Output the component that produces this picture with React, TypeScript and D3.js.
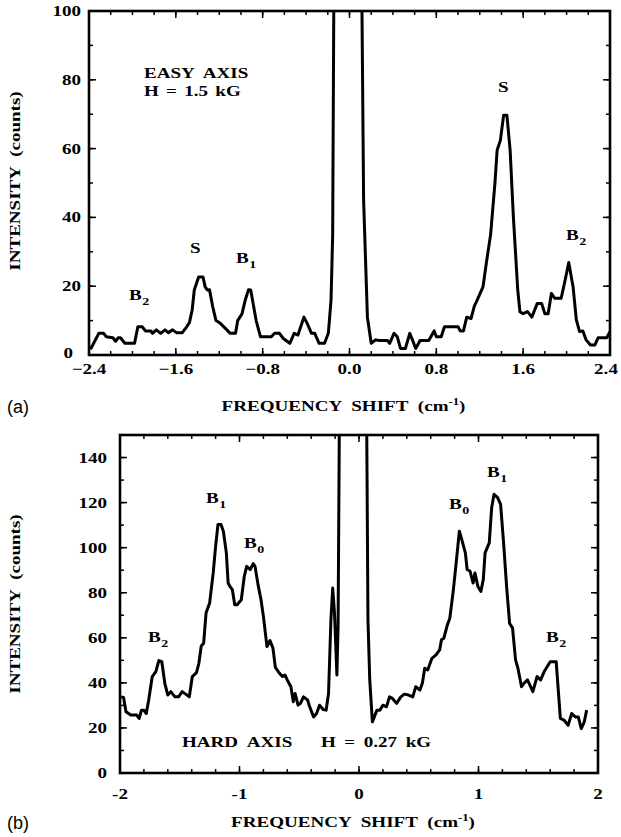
import React from "react";
import * as d3 from "d3";

// Panel (a): easy axis spectrum
const easyX = [-2.4,-2.38,-2.31,-2.265,-2.24,-2.18,-2.155,-2.13,-2.11,-2.07,-1.98,-1.95,-1.91,-1.88,-1.83,-1.815,-1.78,-1.74,-1.7,-1.67,-1.63,-1.595,-1.54,-1.5,-1.475,-1.45,-1.43,-1.39,-1.35,-1.33,-1.31,-1.29,-1.26,-1.23,-1.19,-1.13,-1.1,-1.05,-1.03,-0.99,-0.96,-0.93,-0.91,-0.86,-0.82,-0.72,-0.69,-0.645,-0.61,-0.55,-0.51,-0.475,-0.42,-0.39,-0.35,-0.32,-0.28,-0.23,-0.195,-0.17,-0.155,-0.145,-0.14,0.11,0.115,0.13,0.165,0.2,0.24,0.275,0.35,0.37,0.41,0.44,0.47,0.515,0.555,0.58,0.61,0.65,0.73,0.78,0.8,0.845,0.875,1.0,1.02,1.05,1.08,1.12,1.15,1.17,1.23,1.26,1.3,1.34,1.36,1.39,1.42,1.45,1.48,1.51,1.55,1.57,1.6,1.64,1.68,1.73,1.77,1.8,1.83,1.86,1.89,1.95,1.98,2.02,2.06,2.09,2.12,2.15,2.18,2.22,2.26,2.29,2.37,2.4];
const easyY = [2.4,2,6.3,6.3,5.3,5,4,5,5,3.4,3.4,8.2,8.2,7,7,6.3,7.3,6.3,7.3,6.5,7.3,6.5,6.5,8.2,9.4,13,18.9,22.7,22.7,19.8,18.9,19,14,10,9.2,7.3,6.3,6.3,10,12,16,19,18.9,10,5.3,5.3,6.3,6.3,4.8,3.4,6.3,5.8,11,9.2,6.3,6.3,3.4,3.4,6.3,16,35,100,400,400,100,45,11,3.4,4.4,4.2,4.2,3.4,6.3,5.3,1.9,1.9,6.3,4.4,1.9,4.2,4.2,7,5.3,5.3,8.2,8.2,7,7,11,10.6,14.2,15.5,19.8,26.6,35,50,59.5,62.4,69.7,69.7,59.5,40,18.9,12.6,12,12.6,11,15,15,12,12,17.9,16.5,16.5,20.8,26.9,19.8,10.2,6.8,7,4.4,2.9,2.9,5,5,6.8];

// Panel (b): hard axis spectrum
const hardX = [-1.99,-1.97,-1.95,-1.91,-1.86,-1.84,-1.82,-1.8,-1.78,-1.76,-1.73,-1.7,-1.675,-1.65,-1.625,-1.6,-1.575,-1.54,-1.51,-1.48,-1.45,-1.42,-1.395,-1.36,-1.34,-1.32,-1.3,-1.28,-1.25,-1.22,-1.2,-1.18,-1.155,-1.135,-1.11,-1.095,-1.08,-1.06,-1.04,-1.02,-0.985,-0.96,-0.94,-0.91,-0.885,-0.87,-0.845,-0.82,-0.8,-0.77,-0.745,-0.72,-0.7,-0.665,-0.64,-0.62,-0.6,-0.57,-0.55,-0.535,-0.51,-0.49,-0.465,-0.43,-0.415,-0.38,-0.355,-0.33,-0.3,-0.275,-0.255,-0.235,-0.22,-0.205,-0.185,-0.175,-0.165,-0.16,0.06,0.065,0.075,0.09,0.112,0.15,0.175,0.2,0.23,0.255,0.28,0.315,0.35,0.38,0.415,0.45,0.475,0.51,0.53,0.55,0.575,0.61,0.645,0.675,0.69,0.71,0.74,0.76,0.79,0.81,0.84,0.86,0.89,0.905,0.93,0.955,0.97,0.995,1.02,1.04,1.055,1.09,1.11,1.13,1.16,1.185,1.21,1.235,1.26,1.285,1.31,1.33,1.36,1.38,1.41,1.455,1.49,1.52,1.55,1.6,1.65,1.685,1.715,1.75,1.78,1.81,1.835,1.86,1.885,1.905];
const hardY = [33.8,33.5,27.2,25.7,25.7,24.2,27.9,27.9,26.4,32.4,42.8,45,49.9,49.4,39.8,34.6,36.1,33.8,33.8,36.1,35,33.8,42.8,44.5,48.7,56.4,57.6,71,75.4,88.8,100.6,110.3,110.3,107.3,97.7,84.3,82.8,81.4,74.7,74.7,76.9,87.3,91.7,90.3,92.9,91.7,83.6,76.9,69.5,56.1,58.8,55.4,46.9,44.2,42.8,43.5,41.3,38.3,31.6,35.3,30.1,30.9,33.8,32.4,29.7,24.9,26.4,30.1,28.2,27.9,35.3,68,82.1,71,43.5,65,150,600,600,150,68,41.3,22.7,27.9,27.9,30.1,29.4,33.8,33.1,30.9,33.8,35,34.6,33.8,38.3,36.8,39.8,46.5,45.7,50.9,52.4,54.6,59.1,59.8,65.8,68.7,81.4,91.7,107.3,103.6,97.7,90.3,89.5,84.3,88.8,82.8,80.6,85.8,97.7,102.1,117.7,123.7,122.2,119.2,102.1,82.8,66.5,64.3,50.2,46.5,38.3,39.8,41.3,36.1,42.8,41.3,45,49.4,49.4,24.2,23.5,21.2,26.4,24.9,24.9,19.7,22.7,27.9];

const easyXTicks = [-2.4, -1.6, -0.8, 0.0, 0.8, 1.6, 2.4];
const easyYTicks = [0, 20, 40, 60, 80, 100];
const hardXTicks = [-2, -1, 0, 1, 2];
const hardYTicks = [0, 20, 40, 60, 80, 100, 120, 140];

const SERIF = "'Liberation Serif', 'Times New Roman', serif";
const SANS = "'Liberation Sans', Arial, sans-serif";
const SX = 1.27;

function T(props: { x: number; y: number; anchor?: string; size?: number; rotate?: boolean; ws?: number; children: React.ReactNode }) {
  const tr = props.rotate
    ? `translate(${props.x},${props.y}) rotate(-90) scale(${SX},1)`
    : `translate(${props.x},${props.y}) scale(${SX},1)`;
  return (
    <text transform={tr} textAnchor={props.anchor || "start"} fontFamily={SERIF} fontWeight="bold"
      fontSize={props.size || 15} wordSpacing={props.ws || 0} fill="#000">
      {props.children}
    </text>
  );
}

type Label = { x: number; y: number; text: string; sub?: string };

function Panel(props: {
  id: string;
  left: number; right: number; top: number; bottom: number;
  xDomain: [number, number]; yDomain: [number, number];
  xs: number[]; ys: number[];
  xTicks: number[]; yTicks: number[];
  xMinorStep: number; yMinorStep: number;
  xFmt: (v: number) => string;
  labels: Label[];
  tag: string;
  yLabelRight: number;
  zeroDx: number; zeroDy: number; lastDx: number;
  tagY: number; xTitleY: number; xTickY: number; yTitleY: number;
  extra: React.ReactNode;
}) {
  const { left, right, top, bottom } = props;
  const x = d3.scaleLinear().domain(props.xDomain).range([left, right]);
  const y = d3.scaleLinear().domain(props.yDomain).range([bottom, top]);
  const pts = props.xs.map((v, i) => [v, props.ys[i]] as [number, number]);
  const line = d3.line<[number, number]>().x(d => x(d[0])).y(d => y(d[1]));
  const xMinor = d3.range(props.xDomain[0], props.xDomain[1] + 1e-9, props.xMinorStep);
  const yMinor = d3.range(props.yDomain[0], props.yDomain[1] + 1e-9, props.yMinorStep);
  const maj = 7, min = 4;
  const tickStyle = { stroke: "#000", strokeWidth: 1.5 };
  const nX = props.xTicks.length;
  return (
    <g>
      <defs>
        <clipPath id={props.id}>
          <rect x={left} y={top} width={right - left} height={bottom - top} />
        </clipPath>
      </defs>
      {xMinor.map((v, i) => (
        <g key={"xm" + i}>
          <line x1={x(v)} x2={x(v)} y1={bottom} y2={bottom - min} {...tickStyle} />
          <line x1={x(v)} x2={x(v)} y1={top} y2={top + min} {...tickStyle} />
        </g>
      ))}
      {props.xTicks.map((v, i) => (
        <g key={"xt" + i}>
          <line x1={x(v)} x2={x(v)} y1={bottom} y2={bottom - maj} {...tickStyle} />
          <line x1={x(v)} x2={x(v)} y1={top} y2={top + maj} {...tickStyle} />
          <T x={x(v) + (i === nX - 1 ? props.lastDx : 0)} y={props.xTickY} anchor="middle">{props.xFmt(v)}</T>
        </g>
      ))}
      {yMinor.map((v, i) => (
        <g key={"ym" + i}>
          <line x1={left} x2={left + min} y1={y(v)} y2={y(v)} {...tickStyle} />
          <line x1={right} x2={right - min} y1={y(v)} y2={y(v)} {...tickStyle} />
        </g>
      ))}
      {props.yTicks.map((v, i) => (
        <g key={"yt" + i}>
          <line x1={left} x2={left + maj} y1={y(v)} y2={y(v)} {...tickStyle} />
          <line x1={right} x2={right - maj} y1={y(v)} y2={y(v)} {...tickStyle} />
          <T x={props.yLabelRight + (v === 0 ? props.zeroDx : 0)} y={y(v) + 5 + (v === 0 ? props.zeroDy : 0)} anchor="end">{String(v)}</T>
        </g>
      ))}
      <path d={line(pts) || ""} fill="none" stroke="#000" strokeWidth={3} strokeLinejoin="round" clipPath={`url(#${props.id})`} />
      <rect x={left} y={top} width={right - left} height={bottom - top} fill="none" stroke="#000" strokeWidth={2.6} />
      {props.labels.map((l, i) => (
        <T key={"l" + i} x={l.x} y={l.y}>
          {l.text}
          {l.sub ? <tspan dx={0.5} dy={5} fontSize={11}>{l.sub}</tspan> : null}
        </T>
      ))}
      {props.extra}
      <T x={(left + right) / 2 - 6} y={props.xTitleY} anchor="middle" ws={4}>
        FREQUENCY SHIFT (cm<tspan dy={-6} fontSize={10}>-1</tspan><tspan dy={6}>)</tspan>
      </T>
      <T x={20} y={props.yTitleY} anchor="middle" rotate={true} ws={4}>
        INTENSITY (counts)
      </T>
      <text x={7} y={props.tagY} fontFamily={SANS} fontSize={18}>{props.tag}</text>
    </g>
  );
}

export default function App() {
  return (
    <div style={{ position: "absolute", left: 0, top: 0 }}>
      <svg width={621} height={837} viewBox="0 0 621 837" style={{ display: "block", background: "#fff" }}>
        <rect width={621} height={837} fill="#fff" />
        <Panel
          id="clipA"
          left={89} right={610} top={11} bottom={355}
          xDomain={[-2.4, 2.4]} yDomain={[0, 100]}
          xs={easyX} ys={easyY}
          xTicks={easyXTicks} yTicks={easyYTicks}
          xMinorStep={0.2} yMinorStep={10}
          xFmt={v => d3.format(".1f")(v)}
          yLabelRight={81}
          zeroDx={-8} zeroDy={-2} lastDx={-4}
          labels={[
            { x: 129, y: 300, text: "B", sub: "2" },
            { x: 190, y: 253, text: "S" },
            { x: 236, y: 263, text: "B", sub: "1" },
            { x: 498, y: 92, text: "S" },
            { x: 566, y: 240, text: "B", sub: "2" },
          ]}
          tag="(a)" tagY={413} xTitleY={411} xTickY={374} yTitleY={181}
          extra={
            <g>
              <T x={144} y={78} ws={4}>EASY AXIS</T>
              <T x={144} y={96} ws={2}>H = 1.5 kG</T>
            </g>
          }
        />
        <Panel
          id="clipB"
          left={120} right={598} top={435} bottom={773}
          xDomain={[-2, 2]} yDomain={[0, 150]}
          xs={hardX} ys={hardY}
          xTicks={hardXTicks} yTicks={hardYTicks}
          xMinorStep={0.2} yMinorStep={10}
          xFmt={v => String(v)}
          yLabelRight={107}
          zeroDx={0} zeroDy={0} lastDx={0}
          labels={[
            { x: 148, y: 642, text: "B", sub: "2" },
            { x: 206, y: 503, text: "B", sub: "1" },
            { x: 244, y: 548, text: "B", sub: "0" },
            { x: 449, y: 509, text: "B", sub: "0" },
            { x: 487, y: 477, text: "B", sub: "1" },
            { x: 546, y: 642, text: "B", sub: "2" },
          ]}
          tag="(b)" tagY={829} xTitleY={827} xTickY={799} yTitleY={604}
          extra={
            <g>
              <T x={182} y={747} ws={4}>HARD AXIS</T>
              <T x={321} y={747} ws={3}>H = 0.27 kG</T>
            </g>
          }
        />
      </svg>
    </div>
  );
}
